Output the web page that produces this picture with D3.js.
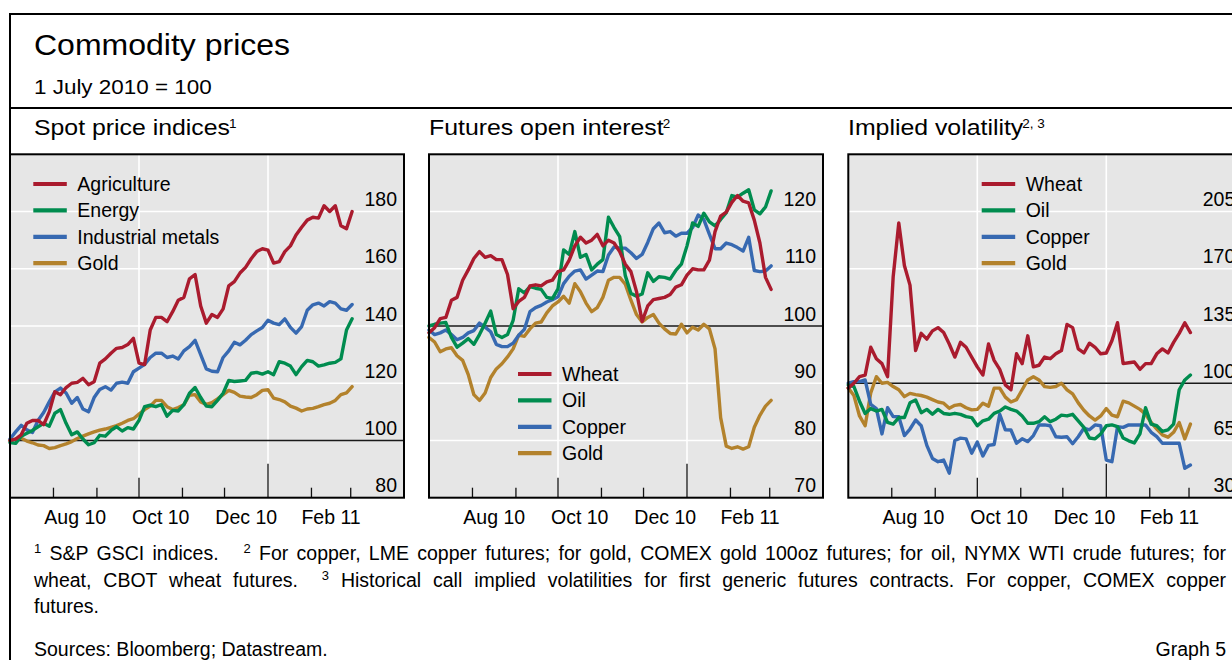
<!DOCTYPE html>
<html><head><meta charset="utf-8">
<script src="https://cdn.jsdelivr.net/npm/d3@7"></script>
<style>
html,body{margin:0;padding:0;background:#fff;overflow:hidden}
text{font-family:"Liberation Sans",Arial,Helvetica,sans-serif;fill:#000}
</style></head><body>
<svg id="chart" width="1232" height="660"></svg>
<script>
// ---------- DATA ----------
const dates = ["2010-07-01","2010-07-05","2010-07-09","2010-07-13","2010-07-17","2010-07-21","2010-07-25","2010-07-29","2010-08-02","2010-08-06",
"2010-08-10","2010-08-14","2010-08-18","2010-08-22","2010-08-26","2010-08-30","2010-09-03","2010-09-07","2010-09-11","2010-09-15",
"2010-09-19","2010-09-23","2010-09-27","2010-10-01","2010-10-05","2010-10-09","2010-10-13","2010-10-17","2010-10-21","2010-10-25",
"2010-10-29","2010-11-02","2010-11-06","2010-11-10","2010-11-14","2010-11-18","2010-11-22","2010-11-26","2010-11-30","2010-12-04",
"2010-12-08","2010-12-12","2010-12-16","2010-12-20","2010-12-24","2010-12-28","2011-01-01","2011-01-05","2011-01-09","2011-01-13",
"2011-01-17","2011-01-21","2011-01-25","2011-01-29","2011-02-02","2011-02-06","2011-02-10","2011-02-14","2011-02-18","2011-02-22",
"2011-02-26","2011-03-02"];

// Spot price indices (S&P GSCI)
const spotAgriculture = [100,100.5,102,106,107,107,105.5,110,117,116,118.5,120,120.3,121.7,119.5,120.5,127,128.5,130.5,132.2,132.5,133.5,135.7,127,126.5,138.6,143,143,141.5,145,149,150,156.5,158,147,141,144,143,146,154,155.5,158.5,160.5,163.5,166,167,166.5,162,162.5,166,168,171.8,174.5,177,178,177.7,182,180,182,175,174,180];
const spotEnergy = [99.3,99,101.5,102.5,103.5,104.8,106,105,109.5,110.8,106,102,103,100.5,98.5,99.2,101.8,101.5,103.5,104.8,103.3,104.5,104,107,111.8,112.3,111.8,112.5,108.5,110.5,110.3,112.5,116.5,118.5,115,112,111.8,114,116.5,121,120.6,120.8,121,123.5,123.8,123.2,124,123,127.5,127,126,123,125.8,128,127.5,126,126.4,127,127.3,128.5,138.6,142.5];
const spotMetals = [100.5,103,105.3,103.7,102.8,107,109.8,113.5,117,118.3,116.6,113,115,111,110,115,117.8,118.8,117.6,120,120.4,120,124,125.3,126.6,129,130.5,130.5,129,129.5,128.5,131.3,132.8,135,130,125,124.2,124,129,131.3,134.3,133.4,135,137,138.3,139.5,142,141,140.5,142.5,139.5,137.5,139.8,145.5,147.4,148,147,148.5,148,146,145.5,147.5];
const spotGold = [100,100.5,100.8,99.8,99.2,98.4,98.2,97.2,97.5,98.2,98.8,99.6,100.7,101.5,102.3,103,103.6,104,104.6,105.2,106,107,107.6,109.2,110.8,112,114,114,111.8,110.8,111.5,112.5,115.8,116,113.5,112.6,113.2,114.5,116,117.5,116.8,115.5,115.2,115,116,117.5,117.7,114.8,114.3,113.5,112,111.3,110.3,111,111.2,111.8,112.5,113,114,116,116.6,118.8];

// Futures open interest
const oiWheat = [98.8,99.7,101.3,101.5,104.5,105,108,109.8,111.8,113,112,112.3,111.6,111.6,109,103,104.3,105,107,107.2,107,107.7,108,109.5,109.8,111.5,114,115.5,114.5,115,116,114,115,114.5,113,110.8,109.5,106,100.8,103.5,104.6,104.8,105,105.5,106.8,107.2,108.9,110,109.8,109.8,111.5,116.5,119.2,119.9,121.6,122.8,121.8,121.5,118.5,114.5,108.5,106.4];
const oiOil = [100,100.3,100.5,100.6,98,96.3,97,97.8,96.8,98.5,100.5,102.6,98.5,98,98.5,101,106.5,105.8,106.9,106.6,106.4,105,104.8,106.5,113.3,112.5,116.5,112,112.5,109.8,110.8,111.6,119,117.2,115.6,108.8,105.7,105.2,105.6,109.3,107.8,108.6,108.5,108.2,109.7,110.8,114,118,117.4,119.7,118.2,117.5,118.6,119.8,122.8,122.5,123.2,123.8,120.3,119.6,120.8,123.6];
const oiCopper = [99.3,98.5,98.8,99.3,98.5,97.6,98,98.8,99.2,100.5,99.8,99,96.8,96.4,96.4,97,98.4,99.4,102.5,103.2,103.6,104.2,104.6,105.1,107.4,108.7,109.6,109.8,108.2,108.9,109.6,109.5,112.4,113.8,113.6,113.6,112.8,111.8,112.5,114.6,117,118,116.3,116.5,115.7,116.2,116.2,117.2,119.4,118.6,116,113.5,113.5,114.5,114.2,113.7,113.1,115.5,109.7,109.5,109.6,110.5];
const oiGold = [98,97.2,95.5,96,96.2,94.8,94,91.5,88,87,88.3,91,92.5,93.4,94.6,96,98.4,98.2,99.5,100.5,100.7,102.3,103.5,104.2,105.2,104,107.4,106,104,102.5,103.2,105,108,108.5,108.5,107.3,104.5,102,100.7,101.5,102,100.5,99.5,98.7,98.6,100.3,98.8,99.8,99.3,100.3,99.5,96,84,79,78.6,78.9,78.5,78.9,82.3,84.4,86,87];

// Implied volatility
const ivWheat = [97,100,104,105,122,115,112,104,165,198,172,160,120,130.5,127,132,134,131,124,116,125,122,116,110,105,124,114,108.5,99,96,118,112,129,110,111,116,115,118,120,136,134,121,118.5,124.5,122,118,118.5,126,137,112,112.5,113,108.5,112,112,118,121,118.5,125,130.5,137,131];
const ivOil = [99,98,89,81.5,84.5,83,84,76,75,79,79,88,89.8,82,84,81,84,81.5,81,81.6,81,79.6,79,74,77,78,81.6,83,85.5,84,83,80,75.5,75.5,76.5,79.5,76.5,78,80.5,80,81,77,73,66.5,66,69,74,74.5,73.5,66.5,64.8,63.5,69,85,75,74,70.5,71.5,75,96,102,105];
const ivCopper = [100,101,101,102,87,84.5,69,85,79.6,79.5,68,72,77.5,74,62,54,52,53,45,65,66.4,66,57.2,64,55.5,62,62.5,81,71.5,71.4,63.3,66,64.3,68,74.5,74.5,74,67.3,67,67.3,63,67.3,72.5,71.5,74.5,74,53,52,73.4,73,74.5,74.5,74.5,74.5,70,67.3,63.3,63.3,63.3,63.3,48,50];
const ivGold = [97,92.5,80,74,94,104,100,100.5,98,96,91.8,93.8,93,92.5,91.5,90,88.5,87.8,84.7,86.5,87,85,83.7,84,87.8,86,97,97,91.5,88.5,90,96,102,104,102,97.9,97.5,98,100,96,93.5,88,83.5,80,77.5,80,84.5,80.5,79.5,89,88,86,84,81,76,72,68.4,67,70,76,66,75];

// Tick labels
const spotTicks = [80,100,120,140,160,180];
const oiTicks = [70,80,90,100,110,120];
const ivTicks = [30,65,100,135,170,205];
const monthLabels = ["Aug 10","Oct 10","Dec 10","Feb 11"];
const monthLabelDates = ["2010-08-01","2010-10-01","2010-12-01","2011-02-01"];

// ---------- LAYOUT / STYLE ----------
const COL = {red:"#aa1b2e", green:"#008c4f", blue:"#3769b1", gold:"#b3822c"};
const FONT = '"Liberation Sans",Arial,Helvetica,sans-serif';
const parse = d3.timeParse("%Y-%m-%d");
const D = dates.map(parse);
const svg = d3.select("#chart");
svg.append("rect").attr("width",1232).attr("height",660).attr("fill","#fff");

const plotTop = 154.3, plotBottom = 497.7, plotW = 394;
const xDomain = [parse("2010-07-01"), parse("2011-04-08")];

const panels = [
  {left:10, titleX:34, title:"Spot price indices", sup:"1", ticks:spotTicks, domain:[80,200],
   series:[["Gold",spotGold,COL.gold],["Industrial metals",spotMetals,COL.blue],["Energy",spotEnergy,COL.green],["Agriculture",spotAgriculture,COL.red]],
   legend:{x:33.3,y:184}},
  {left:429, titleX:429, title:"Futures open interest", sup:"2", ticks:oiTicks, domain:[70,130],
   series:[["Gold",oiGold,COL.gold],["Copper",oiCopper,COL.blue],["Oil",oiOil,COL.green],["Wheat",oiWheat,COL.red]],
   legend:{x:518,y:374}},
  {left:848.3, titleX:848, title:"Implied volatility", sup:"2, 3", ticks:ivTicks, domain:[30,240],
   series:[["Gold",ivGold,COL.gold],["Copper",ivCopper,COL.blue],["Oil",ivOil,COL.green],["Wheat",ivWheat,COL.red]],
   legend:{x:981.7,y:184}}
];

function stretched(sel, x, y, txt, size, factor){
  const t = sel.append("text").attr("x",x).attr("y",y).style("font-size",size+"px").text(txt);
  const w = t.node().getComputedTextLength()*factor;
  t.attr("textLength",w).attr("lengthAdjust","spacingAndGlyphs");
  return w;
}

// Header
stretched(svg, 34, 55, "Commodity prices", 29.5, 1.085);
stretched(svg, 34, 94, "1 July 2010 = 100", 19.5, 1.15);

panels.forEach(p=>{
  const g = svg.append("g");
  const x = d3.scaleTime().domain(xDomain).range([p.left, p.left+plotW]);
  const y = d3.scaleLinear().domain(p.domain).range([plotBottom, plotTop]);

  // title
  const tw = stretched(svg, p.titleX, 135, p.title, 21.5, 1.155);
  svg.append("text").attr("x", p.titleX+tw-1).attr("y",128).style("font-size","13.5px").text(p.sup);

  g.append("rect").attr("x",p.left).attr("y",plotTop).attr("width",plotW).attr("height",plotBottom-plotTop).attr("fill","#e6e6e6");

  // horizontal gridlines
  p.ticks.filter(t=>t!==p.domain[0] && t!==100).forEach(t=>{
    g.append("line").attr("x1",p.left).attr("x2",p.left+plotW).attr("y1",y(t)).attr("y2",y(t))
      .attr("stroke","#fff").attr("stroke-width",1.6);
  });
  // vertical gridlines at quarter starts
  [parse("2010-10-01"), parse("2011-01-01")].forEach(d=>{
    g.append("line").attr("x1",x(d)).attr("x2",x(d)).attr("y1",plotTop).attr("y2",plotBottom)
      .attr("stroke","#fff").attr("stroke-width",1.6);
  });
  // baseline 100
  g.append("line").attr("x1",p.left).attr("x2",p.left+plotW).attr("y1",y(100)).attr("y2",y(100))
    .attr("stroke","#1a1a1a").attr("stroke-width",1.4);

  // month ticks
  d3.timeMonth.range(parse("2010-08-01"), parse("2011-03-02")).forEach(d=>{
    const m = d.getMonth();
    const len = m===0 ? 34 : (m%3===0 ? 20 : 10);
    g.append("line").attr("x1",x(d)).attr("x2",x(d)).attr("y1",plotBottom).attr("y2",plotBottom-len)
      .attr("stroke","#111").attr("stroke-width",1.3);
  });

  // y axis labels (inside plot, right aligned, above gridline)
  const ax = g.append("g").attr("transform",`translate(${p.left+plotW-7},0)`)
    .call(d3.axisLeft(y).tickValues(p.ticks).tickSize(0).tickPadding(0).tickFormat(d3.format("d")));
  ax.select(".domain").remove();
  ax.selectAll("text").attr("dy",-6).attr("x",0).style("font-size","19.5px").style("font-family",FONT).attr("fill","#000");

  // x labels
  monthLabelDates.forEach((ds,i)=>{
    const a = parse(ds), b = d3.timeMonth.offset(a,1);
    g.append("text").attr("x",(x(a)+x(b))/2).attr("y",524).attr("text-anchor","middle")
      .style("font-size","19.5px").text(monthLabels[i]);
  });

  // series
  const line = d3.line().x((d,i)=>x(D[i])).y(d=>y(d)).curve(d3.curveLinear);
  p.series.forEach(s=>{
    g.append("path").datum(s[1]).attr("d",line).attr("fill","none").attr("stroke",s[2])
      .attr("stroke-width",3.4).attr("stroke-linejoin","round").attr("stroke-linecap","round");
  });

  // legend (order top->bottom is reverse of draw order)
  const leg = p.series.slice().reverse();
  leg.forEach((s,i)=>{
    const ly = p.legend.y + i*26.4;
    g.append("line").attr("x1",p.legend.x).attr("x2",p.legend.x+33.5).attr("y1",ly).attr("y2",ly)
      .attr("stroke",s[2]).attr("stroke-width",4.2);
    g.append("text").attr("x",p.legend.x+44).attr("y",ly+6.8).style("font-size","19.5px").text(s[0]);
  });

  // border
  g.append("rect").attr("x",p.left).attr("y",plotTop).attr("width",plotW).attr("height",plotBottom-plotTop)
    .attr("fill","none").attr("stroke","#000").attr("stroke-width",2);
});

// outer frame
svg.append("path").attr("d","M10,662 V14 H1240").attr("fill","none").attr("stroke","#000").attr("stroke-width",2);
svg.append("line").attr("x1",10).attr("x2",1240).attr("y1",108).attr("y2",108).attr("stroke","#000").attr("stroke-width",2);

// footnotes
function richLine(x, y, parts, target){
  const t = svg.append("text").attr("x",x).attr("y",y).style("font-size","19.5px").style("white-space","pre");
  let shift = 0;
  parts.forEach(p=>{
    const rise = p.sup ? -7 : 0;
    const ts = t.append("tspan").attr("dy", rise-shift).text(p.sup || p.t);
    if (p.sup) ts.style("font-size","13px");
    shift = rise;
  });
  if (target){
    const nat = t.node().getComputedTextLength();
    const spaces = (t.text().match(/ /g)||[]).length;
    t.style("word-spacing", ((target-nat)/spaces)+"px");
  }
  return t;
}
richLine(34, 560, [{sup:"1"},{t:" S&P GSCI indices.   "},{sup:"2"},{t:" For copper, LME copper futures; for gold, COMEX gold 100oz futures; for oil, NYMX WTI crude futures; for"}], 1192);
richLine(34, 587, [{t:"wheat, CBOT wheat futures.  "},{sup:"3"},{t:" Historical call implied volatilities for first generic futures contracts. For copper, COMEX copper"}], 1192);
richLine(34, 613, [{t:"futures."}]);
svg.append("text").attr("x",34).attr("y",656).style("font-size","19.5px").text("Sources: Bloomberg; Datastream.");
svg.append("text").attr("x",1226).attr("y",656).attr("text-anchor","end").style("font-size","19.5px").text("Graph 5");
</script>
</body></html>
